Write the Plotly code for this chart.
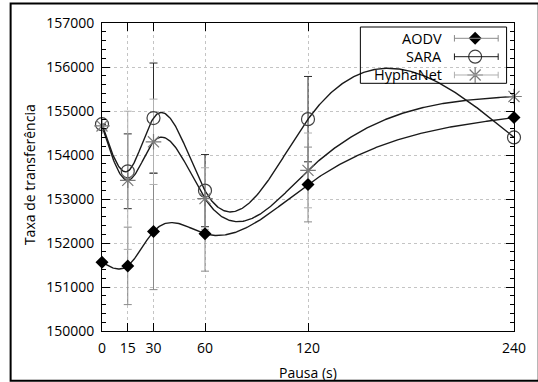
import numpy as np
import plotly.graph_objects as go

# Pause time (s) and mean transfer rate per protocol, with error-bar half widths
pausa = [0, 15, 30, 60, 120, 240]
aodv = [151560, 151480, 152260, 152210, 153330, 154850]
aodv_err = [None, 880, 1320, 850, 850, None]
sara = [154700, 153630, 154840, 153190, 154815, 154400]
sara_err = [None, 850, 1250, 820, 970, None]
hypha = [154660, 153425, 154300, 153010, 153650, 155330]
hypha_err = [None, 1570, 970, 700, 850, None]

names = ["AODV", "SARA", "HyphaNet"]
y_ticks = [150000, 151000, 152000, 153000, 154000, 155000, 156000, 157000]


def natural_spline(xs, ys, n=500):
    """Natural cubic spline through the points (same as gnuplot 'smooth csplines')."""
    x = np.asarray(xs, float)
    y = np.asarray(ys, float)
    h = np.diff(x)
    m = len(x)
    A = np.zeros((m, m))
    r = np.zeros(m)
    A[0, 0] = A[-1, -1] = 1.0
    for i in range(1, m - 1):
        A[i, i - 1] = h[i - 1]
        A[i, i] = 2 * (h[i - 1] + h[i])
        A[i, i + 1] = h[i]
        r[i] = 3 * ((y[i + 1] - y[i]) / h[i] - (y[i] - y[i - 1]) / h[i - 1])
    c = np.linalg.solve(A, r)
    b = (y[1:] - y[:-1]) / h - h * (2 * c[:-1] + c[1:]) / 3
    d = (c[1:] - c[:-1]) / (3 * h)
    xx = np.linspace(x[0], x[-1], n)
    idx = np.clip(np.searchsorted(x, xx, side="right") - 1, 0, m - 2)
    t = xx - x[idx]
    yy = y[idx] + b[idx] * t + c[idx] * t ** 2 + d[idx] * t ** 3
    return xx, yy


series = [
    dict(y=aodv, err=aodv_err, bar="#8a8a8a",
         marker=dict(symbol="diamond", size=10, color="black", line=dict(width=0))),
    dict(y=sara, err=sara_err, bar="#2a2a2a",
         marker=dict(symbol="circle-open", size=13, color="#404040", line=dict(width=1.2))),
    dict(y=hypha, err=hypha_err, bar="#b0b0b0",
         marker=dict(symbol="asterisk-open", size=13, color="#7a7a7a", line=dict(width=1.2))),
]

fig = go.Figure()

# error bars
for s in series:
    fig.add_trace(go.Scatter(
        x=pausa, y=s["y"], mode="markers", cliponaxis=False,
        marker=dict(size=1, color="rgba(0,0,0,0)"),
        error_y=dict(type="data", array=s["err"], visible=True,
                     color=s["bar"], thickness=1, width=4),
    ))

# smoothed curves
for s in series:
    xx, yy = natural_spline(pausa, s["y"])
    fig.add_trace(go.Scatter(x=xx, y=yy, mode="lines",
                             line=dict(color="#1a1a1a", width=1.4)))

# point markers
for s in series:
    fig.add_trace(go.Scatter(x=pausa, y=s["y"], mode="markers", cliponaxis=False,
                             marker=s["marker"]))

# ---- legend (built by hand: right-aligned labels, sample to the right) ----
row_y = [0.9503, 0.8906, 0.8312]
lx0, lx1, lmx, ltext = 0.8554, 0.9616, 0.9057, 0.828
cap = 0.0105
legend_line_colors = ["#8a8a8a", "#1a1a1a", "#b0b0b0"]
legend_markers = [
    dict(symbol="diamond", size=10, color="black", line=dict(width=0)),
    dict(symbol="circle", size=13, color="white", line=dict(width=1.2, color="#404040")),
    dict(symbol="asterisk-open", size=13, color="#7a7a7a", line=dict(width=1.2)),
]
shapes = []
annotations = []
for name, ry, lc, mk in zip(names, row_y, legend_line_colors, legend_markers):
    shapes.append(dict(type="line", xref="paper", yref="paper", x0=lx0, x1=lx1,
                       y0=ry, y1=ry, line=dict(color=lc, width=1)))
    for cx in (lx0, lx1):
        shapes.append(dict(type="line", xref="paper", yref="paper", x0=cx, x1=cx,
                           y0=ry - cap, y1=ry + cap, line=dict(color=lc, width=1)))
    fig.add_trace(go.Scatter(x=[lmx], y=[ry], xaxis="x2", yaxis="y2", mode="markers",
                             marker=mk, cliponaxis=False))
    annotations.append(dict(text=name, xref="paper", yref="paper", x=ltext, y=ry,
                            xanchor="right", yanchor="middle", showarrow=False,
                            borderpad=0,
                            font=dict(size=14.5, color="black")))

shapes.append(dict(type="rect", xref="paper", yref="paper", x0=0.6271, x1=0.982,
                   y0=0.8042, y1=0.987, line=dict(color="black", width=1)))
# outer frame
shapes.append(dict(type="rect", xref="paper", yref="paper", x0=-0.2218, x1=1.06,
                   y0=-0.1615, y1=1.0635, line=dict(color="black", width=2)))

annotations.append(dict(text="Pausa (s)", xref="paper", yref="paper", x=0.501, y=-0.1354,
                        xanchor="center", yanchor="middle", showarrow=False,
                        font=dict(size=14)))
annotations.append(dict(text="Taxa de transferência", xref="paper", yref="paper",
                        x=-0.1775, y=0.509, xanchor="center", yanchor="middle",
                        textangle=-90, showarrow=False, font=dict(size=14)))

axis_common = dict(showline=True, linecolor="black", linewidth=1, mirror="allticks",
                   ticks="inside", ticklen=8, tickcolor="black", tickwidth=1,
                   showgrid=True, gridcolor="#c4c4c4", griddash="dot", gridwidth=1,
                   zeroline=False, tickfont=dict(size=14, color="black"))

fig.update_layout(
    width=538, height=382,
    margin=dict(l=102, r=19, t=23, b=51),
    paper_bgcolor="white", plot_bgcolor="white",
    showlegend=False,
    font=dict(family="Open Sans", size=14, color="black"),
    xaxis=dict(range=[0, 240], tickvals=pausa, ticktext=[str(v) for v in pausa],
               ticklabelstandoff=4, **axis_common),
    yaxis=dict(range=[150000, 157000], tickvals=y_ticks,
               ticktext=[str(v) for v in y_ticks], ticklabelstandoff=4,
               minor=dict(dtick=200, ticks="inside", ticklen=4, tickcolor="black",
                          showgrid=False),
               **axis_common),
    xaxis2=dict(range=[0, 1], overlaying="x", visible=False, fixedrange=True),
    yaxis2=dict(range=[0, 1], overlaying="y", visible=False, fixedrange=True),
    shapes=shapes,
    annotations=annotations,
)

fig.write_html("out.html")
